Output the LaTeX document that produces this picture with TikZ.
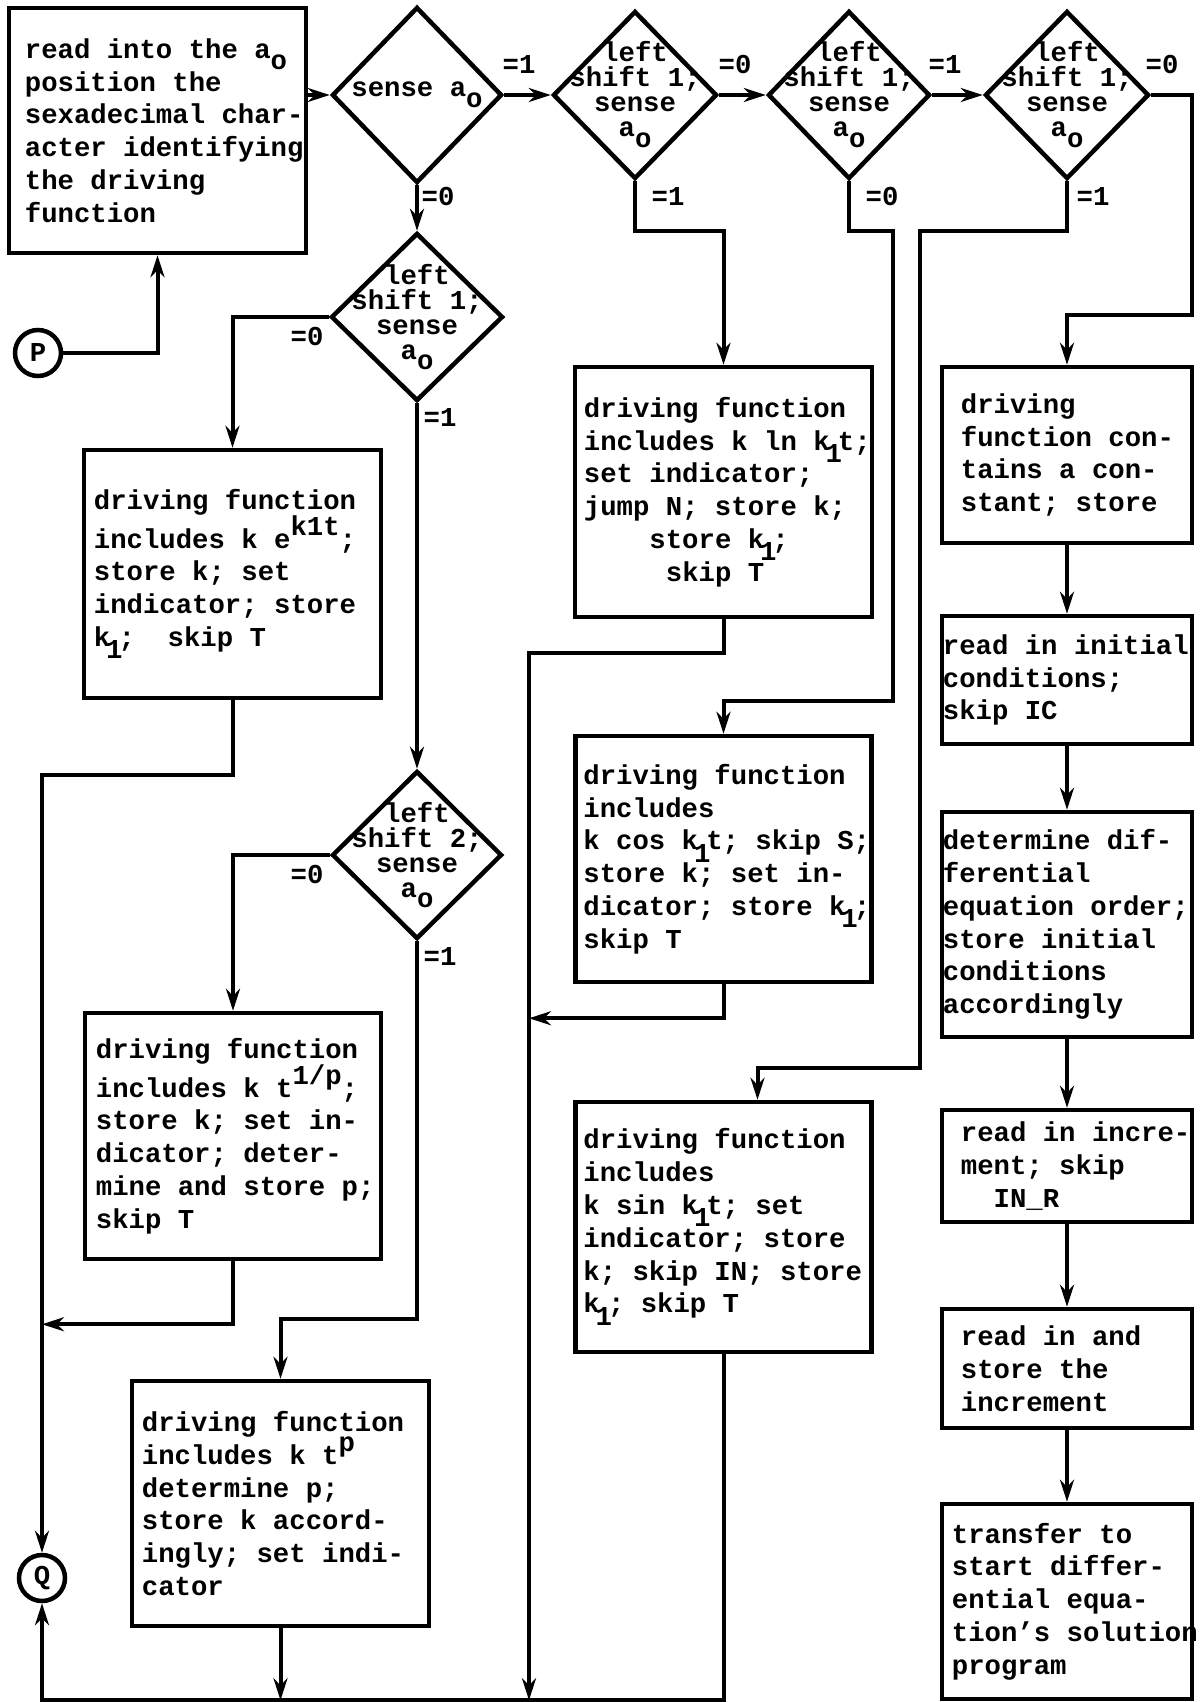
\documentclass[tikz,border=0pt]{standalone}
\usepackage{fontspec}
\setmainfont{Liberation Mono}
\usetikzlibrary{shapes.geometric,positioning,arrows.meta}

\newcommand{\typdn}[1]{\raisebox{-0.4em}{#1}}
\newcommand{\typdnh}[1]{\raisebox{-0.45em}{\makebox[0.3em]{#1}}}
\newcommand{\typup}[1]{\raisebox{0.45em}{#1}}

\tikzset{
  box/.style={draw, rectangle, line width=4.5pt, inner sep=0pt},
  dia/.style={draw, diamond, line width=4.5pt, inner sep=0pt},
  txt/.style={align=left, inner sep=0pt},
  dtxt/.style={align=center, inner sep=0pt, font=\bfseries\fontsize{27.3}{25}\selectfont},
  lbl/.style={inner sep=0pt},
  term/.style={draw, circle, line width=4.5pt, minimum size=46pt, inner sep=0pt},
  conn/.style={line width=4pt, ->},
}

\begin{document}
\begin{tikzpicture}[x=1pt, y=-1pt, >={Stealth[length=22pt,width=14pt]},
  font=\bfseries\fontsize{27.3}{32.8}\selectfont]
    \useasboundingbox (0,0) rectangle (1201,1702);

    \node[box, minimum width=297pt, minimum height=245pt] (read) at (157.5,130.5) {};
    \node[txt, right=18pt of read.west] (readtxt) {read into the a\typdn{o}\\position the\\sexadecimal char-\\acter identifying\\the driving\\function};
    \node[term] (P) at (38,353) {P};

    \node[dia, minimum width=170pt, minimum height=176pt] (sense) at (417,95) {};
    \node[dtxt] (sensetxt) at (sense) {sense a\typdn{o}};
    \node[dia, minimum width=164pt, minimum height=168pt] (shiftA) at (635,95) {};
    \node[dtxt] (shiftAtxt) at (shiftA) {left\\shift 1;\\sense\\a\typdn{o}};
    \node[dia, minimum width=162pt, minimum height=168pt] (shiftB) at (849,95) {};
    \node[dtxt] (shiftBtxt) at (shiftB) {left\\shift 1;\\sense\\a\typdn{o}};
    \node[dia, minimum width=164pt, minimum height=168pt] (shiftC) at (1067,95) {};
    \node[dtxt] (shiftCtxt) at (shiftC) {left\\shift 1;\\sense\\a\typdn{o}};
    \node[dia, minimum width=172pt, minimum height=168pt] (shiftD) at (417,317) {};
    \node[dtxt] (shiftDtxt) at (shiftD) {left\\shift 1;\\sense\\a\typdn{o}};
    \node[dia, minimum width=170pt, minimum height=168pt] (shiftE) at (417,855) {};
    \node[dtxt] (shiftEtxt) at (shiftE) {left\\shift 2;\\sense\\a\typdn{o}};

    \node[lbl] (l1) at (519,65) {=1};
    \node[lbl] (l2) at (735,65) {=0};
    \node[lbl] (l3) at (945,65) {=1};
    \node[lbl] (l4) at (1162,65) {=0};
    \node[lbl] (l5) at (438,197) {=0};
    \node[lbl] (l6) at (668,197) {=1};
    \node[lbl] (l7) at (882,197) {=0};
    \node[lbl] (l8) at (1093,197) {=1};
    \node[lbl] (l9) at (307,336) {=0};
    \node[lbl] (l10) at (440,418) {=1};
    \node[lbl] (l11) at (307,874) {=0};
    \node[lbl] (l12) at (440,956) {=1};

    \node[box, minimum width=297pt, minimum height=248pt] (expo) at (232.5,574) {};
    \node[txt, right=12pt of expo.west] (expotxt) {driving function\\includes k e\typup{k1t};\\store k; set\\indicator; store\\k\typdnh{1};~~skip T};
    \node[box, minimum width=296pt, minimum height=246pt] (root) at (233,1136) {};
    \node[txt, right=13pt of root.west] (roottxt) {driving function\\includes k t\typup{1/p};\\store k; set in-\\dicator; deter-\\mine and store p;\\skip T};
    \node[box, minimum width=297pt, minimum height=245pt] (power) at (280.5,1503.5) {};
    \node[txt, right=12pt of power.west] (powertxt) {driving function\\includes k t\typup{p}\\determine p;\\store k accord-\\ingly; set indi-\\cator};
    \node[term] (Q) at (42,1578) {Q};

    \node[box, minimum width=297pt, minimum height=250pt] (log) at (723.5,492) {};
    \node[txt, right=11pt of log.west] (logtxt) {driving function\\includes k ln k\typdnh{1}t;\\set indicator;\\jump N; store k;\\\phantom{0000}store k\typdnh{1};\\\phantom{00000}skip T};
    \node[box, minimum width=296pt, minimum height=246pt] (cos) at (723.5,859) {};
    \node[txt, right=10pt of cos.west] (costxt) {driving function\\includes\\k cos k\typdnh{1}t; skip S;\\store k; set in-\\dicator; store k\typdnh{1};\\skip T};
    \node[box, minimum width=296pt, minimum height=250pt] (sin) at (723.5,1227) {};
    \node[txt, right=10pt of sin.west] (sintxt) {driving function\\includes\\k sin k\typdnh{1}t; set\\indicator; store\\k; skip IN; store\\k\typdnh{1}; skip T};

    \node[box, minimum width=250pt, minimum height=176pt] (const) at (1067,455) {};
    \node[txt, right=21pt of const.west] (consttxt) {driving\\function con-\\tains a con-\\stant; store};
    \node[box, minimum width=250pt, minimum height=128pt] (initial) at (1067,680) {};
    \node[txt, right=3pt of initial.west] (initialtxt) {read in initial\\conditions;\\skip IC};
    \node[box, minimum width=250pt, minimum height=225pt] (order) at (1067,924.5) {};
    \node[txt, right=3pt of order.west] (ordertxt) {determine dif-\\ferential\\equation order;\\store initial\\conditions\\accordingly};
    \node[box, minimum width=250pt, minimum height=112pt] (incr) at (1067,1166) {};
    \node[txt, right=21pt of incr.west] (incrtxt) {read in incre-\\ment; skip\\\phantom{00}IN\_R};
    \node[box, minimum width=250pt, minimum height=119pt] (store) at (1067,1368.5) {};
    \node[txt, right=21pt of store.west] (storetxt) {read in and\\store the\\increment};
    \node[box, minimum width=250pt, minimum height=195pt] (transfer) at (1067,1601.5) {};
    \node[txt, right=12pt of transfer.west] (transfertxt) {transfer to\\start differ-\\ential equa-\\tion's solution\\program};

    \draw[conn] (P) -| (read);
    \draw[conn] (read.east |- sense) -- (sense);
    \draw[conn] (sense) -- (shiftA);
    \draw[conn] (shiftA) -- (shiftB);
    \draw[conn] (shiftB) -- (shiftC);
    \draw[conn] (sense) -- (shiftD);
    \draw[conn] (shiftD) -| (expo);
    \draw[conn] (shiftD) -- (shiftE);
    \draw[conn] (shiftE) -| (root);
    \draw[conn] (shiftE.south) |- ([yshift=60pt]power.north) -- (power.north);
    \draw[conn] (expo.south) -- ++(0,75) -| (Q);
    \draw[conn] (root.south) -- ++(0,63) coordinate (rootbend) -- (rootbend -| Q);
    \draw[conn] (sin.south) -- ++(0,346) coordinate (floor) -| (Q);
    \draw[conn] (power.south) -- (power.south |- floor);
    \draw[conn] (shiftA.south) -- ++(0,50) -| (log);
    \draw[conn] (shiftB.south) -- ++(0,50) -- ++(44,0) |- ([yshift=33pt]cos.north) -- (cos.north);
    \draw[conn] (shiftC.south) -- ++(0,50) -- ++(-147,0) |- ([xshift=34pt,yshift=32pt]sin.north) -- ([xshift=34pt]sin.north);
    \draw[conn] (shiftC.east) -- ++(41,0) |- ([yshift=50pt]const.north) -- (const.north);
    \draw[conn] (log.south) -- ++(0,34) -- ++(-194.5,0) coordinate (trunk) -- (trunk |- floor);
    \draw[conn] (cos.south) -- ++(0,34) coordinate (cosbend) -- (cosbend -| trunk);
    \draw[conn] (const) -- (initial);
    \draw[conn] (initial) -- (order);
    \draw[conn] (order) -- (incr);
    \draw[conn] (incr) -- (store);
    \draw[conn] (store) -- (transfer);
\end{tikzpicture}
\end{document}
